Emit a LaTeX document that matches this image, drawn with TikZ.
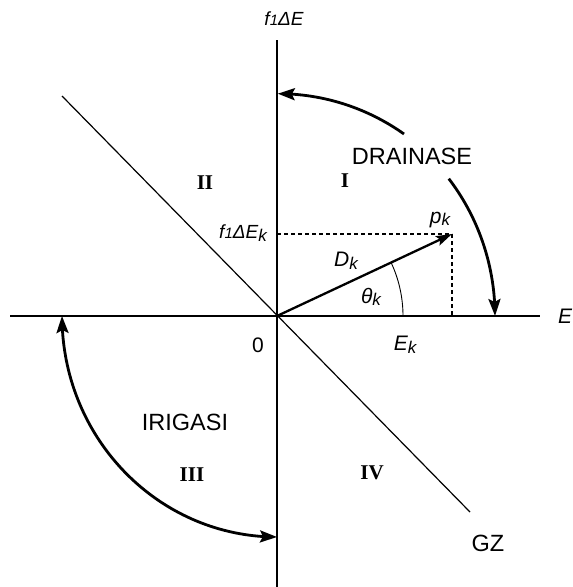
\documentclass[tikz,border=0pt]{standalone}
\usepackage{fontspec}
\setmainfont{Liberation Sans}
\newfontfamily\romfont{Liberation Serif}
\usetikzlibrary{arrows.meta,bending}
\newcommand{\mysub}[1]{\raisebox{-2.5pt}{\fontsize{17}{17}\selectfont #1}}
\newcommand{\myone}{{\fontsize{15}{15}\selectfont 1}}
\begin{document}
\begin{tikzpicture}[x=1pt,y=-1pt,
  axis/.style={line width=2.8pt},
  thinline/.style={line width=1.2pt},
  bigarrow/.style={line width=2.8pt,-{Stealth[length=17pt,width=12pt,inset=3pt,flex]}},
  bigdarrow/.style={line width=2.8pt,{Stealth[length=17pt,width=12pt,inset=3pt,flex]}-{Stealth[length=17pt,width=12pt,inset=3pt,flex]}},
  vecarrow/.style={line width=2.3pt,-{Stealth[length=16pt,width=10pt,inset=3pt]}},
  projline/.style={line width=1.4pt,dash pattern=on 4pt off 3pt},
  lab/.style={font=\fontsize{21}{21}\selectfont\itshape,inner sep=0pt},
  word/.style={font=\fontsize{23.5}{23.5}\selectfont,inner sep=0pt},
  roman/.style={font=\fontsize{21}{21}\selectfont\romfont\bfseries,inner sep=0pt}]
\useasboundingbox[fill=white] (0,0) rectangle (573,587);
% coordinates
\coordinate (O) at (277,316);
\coordinate (xl) at (10,316);
\coordinate (xr) at (540,316);
\coordinate (yt) at (277,40);
\coordinate (yb) at (277,587);
\coordinate (gz1) at (62,96);
\coordinate (gz2) at (470,512);
\coordinate (pk) at (452,234);
\coordinate (pkx) at (452,316);
\coordinate (pky) at (277,234);
% axes
\draw[axis] (xl) -- (xr);
\draw[axis] (yt) -- (yb);
% GZ line
\draw[thinline] (gz1) -- (gz2);
% dashed projections
\draw[projline] (pky) -- (pk);
\draw[projline] (pk) -- (pkx);
% vector
\draw[vecarrow] (O) -- (pk);
% angle arc
\draw[line width=0.9pt] (403,316) arc[start angle=0,end angle=-25,radius=126];
% drainase arrow (two pieces)
\coordinate (d1) at (404,134);
\coordinate (d2) at (448.8,178.7);
\draw[bigarrow] (d1) arc[start angle=-55,end angle=-90,x radius=220,y radius=223];
\draw[bigarrow] (d2) arc[start angle=-38,end angle=0,x radius=218,y radius=223];
% irigasi arrow
\coordinate (i1) at (62,316);
\draw[bigdarrow] (i1) arc[start angle=180,end angle=90,x radius=215,y radius=221];
% labels
\node[lab,font=\fontsize{19}{19}\selectfont\itshape] (lfE) at (284,19) {f\myone ΔE};
\node[lab,anchor=west] (lE) at (558,316) {E};
\node[lab,font=\fontsize{19}{19}\selectfont\itshape] (lfEk) at (243,233) {f\myone ΔE\mysub{k}};
\node[lab] (lpk) at (440,220) {p\mysub{k}};
\node[lab] (lDk) at (346,261) {D\mysub{k}};
\node[lab] (lth) at (371,297) {θ\mysub{k}};
\node[lab,font=\fontsize{21}{21}\selectfont] (l0) at (258,345) {0};
\node[lab] (lEk) at (405,345) {E\mysub{k}};
\node[word] (ldr) at (412,156) {DRAINASE};
\node[word] (lir) at (185,422) {IRIGASI};
\node[word] (lgz) at (488,543) {GZ};
\node[roman] (r1) at (345,181) {I};
\node[roman] (r2) at (205,183) {II};
\node[roman] (r3) at (192,475) {III};
\node[roman] (r4) at (372,473) {IV};
\end{tikzpicture}
\end{document}
